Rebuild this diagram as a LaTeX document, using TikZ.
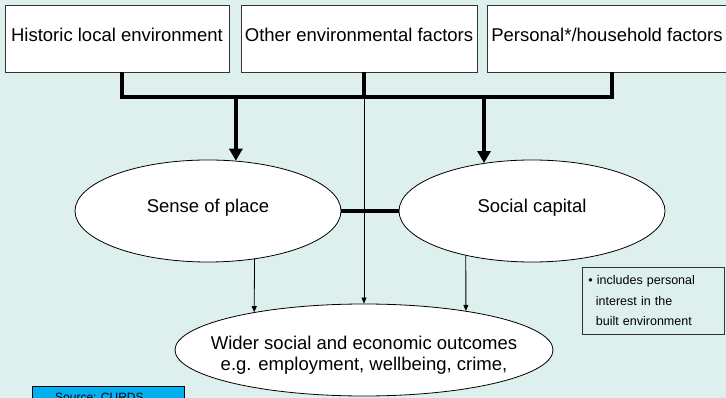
\documentclass[tikz,border=0pt]{standalone}
\usepackage{fontspec}
\setmainfont{Liberation Sans}
\usetikzlibrary{arrows.meta,shapes.geometric,calc}
\definecolor{bg}{RGB}{222,240,237}
\definecolor{srcblue}{RGB}{0,176,240}
\begin{document}
\begin{tikzpicture}[x=1pt,y=-1pt,
  factor/.style={draw=black!80, fill=white, line width=0.8pt, minimum height=67pt, inner sep=0pt, text height=13.5pt, text depth=7pt, font=\fontsize{18.5}{22}\selectfont},
  oval/.style={ellipse, draw=black, fill=white, line width=0.8pt, inner sep=0pt},
  ovaltext/.style={text height=13.5pt, text depth=9.5pt, font=\fontsize{18.5}{22}\selectfont},
  heavy/.style={line width=4pt},
  heavyarrow/.style={line width=4pt, -{Triangle[width=13pt,length=12pt]}},
  thinarrow/.style={line width=0.8pt, -{Triangle[width=5pt,length=6pt]}},
  notebox/.style={draw=black!80, line width=0.8pt, inner xsep=6pt, align=left, text width=130pt, minimum height=67pt, font=\fontsize{12.5}{20.5}\selectfont},
  srcbox/.style={draw=black, line width=1.2pt, fill=srcblue, minimum width=152pt, minimum height=30pt, inner sep=0pt}
]
\fill[bg] (0,0) rectangle (726,398);
\useasboundingbox (0,0) rectangle (726,398);
\clip (0,0) rectangle (726,398);

% factor boxes
\node[factor, minimum width=224pt] (h1) at (117,38.5) {Historic local environment};
\node[factor, minimum width=236pt] (h2) at (359,38.5) {Other environmental factors};
\node[factor, minimum width=240pt] (h3) at (607,38.5) {Personal*/household factors};

% ellipses
\node[oval, ovaltext, minimum width=266pt, minimum height=102pt] (sense) at (208,211) {Sense of place};
\node[oval, ovaltext, minimum width=266pt, minimum height=102pt] (social) at (532,211) {Social capital};
\node[oval, minimum width=378pt, minimum height=92pt] (out) at (364,350) {};
\node[align=center, inner sep=0pt, font=\fontsize{18.5}{21}\selectfont] (outtext) at (364,355) {Wider social and economic outcomes\\e.g. employment, wellbeing, crime,};

% bar
\coordinate (b1) at (122,97);
\coordinate (b2) at (364,97);
\coordinate (b3) at (612,97);
\draw[heavy] (h1.south -| b1) -- (b1) -- (b3) -- (h3.south -| b3);
\draw[heavy] (h2.south -| b2) -- (b2);

% thick arrows
\draw[heavyarrow] (sense.61.6 |- b1) -- (sense.61.6);
\draw[heavyarrow] (social.135.95 |- b1) -- (social.135.95);

% link between ellipses
\draw[heavy] (sense.east) -- (social.west);

% thin arrows
\draw[thinarrow] (b2) -- (out.north);
\draw[thinarrow] (sense.-46.84) -- (out.161.46);
\draw[thinarrow] (social.-146.67) -- (out.21.05);

% footnote
\node[notebox, anchor=north west] (note) at (582,267) {\textbullet\ includes personal\\\hspace*{7.5pt}interest in the\\\hspace*{7.5pt}built environment};

% source
\node[srcbox, anchor=north west] (src) at (32,386) {};
\node[anchor=base west, font=\fontsize{12}{14}\selectfont, inner sep=0pt] (srctext) at (55,401.5) {Source: CURDS};
\end{tikzpicture}
\end{document}
